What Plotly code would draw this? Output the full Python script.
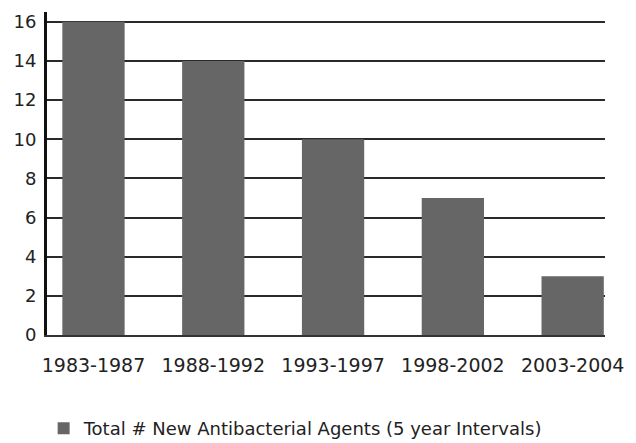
import plotly.graph_objects as go

categories = ["1983-1987", "1988-1992", "1993-1997", "1998-2002", "2003-2004"]
values = [16, 14, 10, 7, 3]
series_name = "Total # New Antibacterial Agents (5 year Intervals)"
y_ticks = [0, 2, 4, 6, 8, 10, 12, 14, 16]

FONT = "DejaVu Sans, Verdana, sans-serif"
TXT = "#222222"

fig = go.Figure()
fig.add_trace(go.Bar(
    x=categories, y=values, name=series_name,
    marker=dict(color="#666666", line=dict(width=0)),
    width=0.52, showlegend=True,
))

# the page body has an 8px default margin, so margins are compensated
fig.update_layout(
    width=636, height=443,
    margin=dict(l=39, r=39, t=4, b=116),
    paper_bgcolor="white", plot_bgcolor="white",
    font=dict(family=FONT, size=16, color=TXT),
    showlegend=True,
    legend=dict(orientation="h", x=-0.006, xanchor="left", y=-0.29, yanchor="middle",
                font=dict(family=FONT, size=18, color=TXT)),
)
fig.update_xaxes(
    type="category", range=[-0.388, 4.27], showgrid=False, zeroline=False,
    showline=True, linecolor="#333333", linewidth=2, automargin=False,
    ticks="", ticklabelstandoff=12, tickfont=dict(family=FONT, size=19, color=TXT),
)
fig.update_yaxes(
    range=[0, 16.5], tickvals=y_ticks, ticktext=[str(v) for v in y_ticks],
    showgrid=True, gridcolor="#2a2a2a", gridwidth=2, zeroline=False,
    showline=True, linecolor="#111111", linewidth=3, automargin=False,
    ticks="", ticklabelstandoff=4, tickfont=dict(family=FONT, size=18, color=TXT),
)

fig.write_html("out.html")
